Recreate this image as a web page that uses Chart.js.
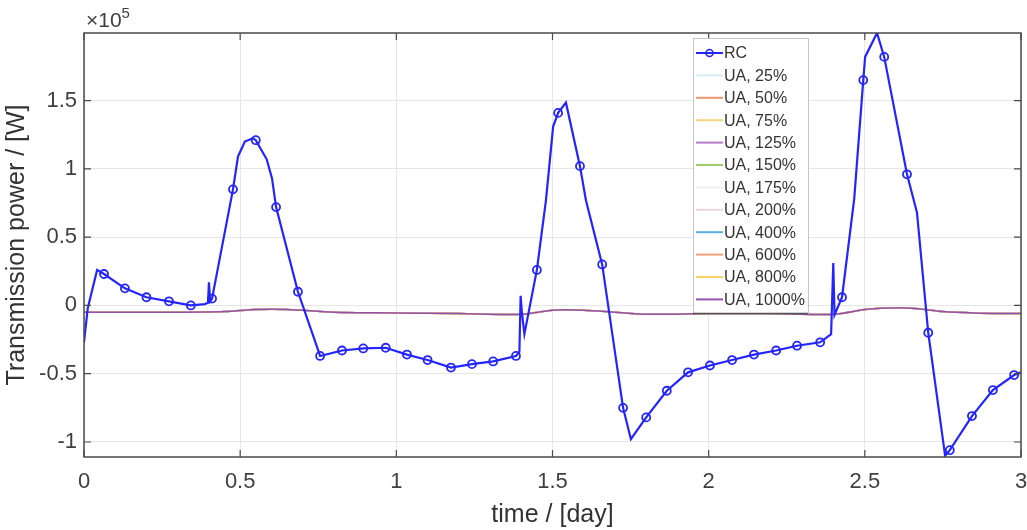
<!DOCTYPE html>
<html>
<head>
<meta charset="utf-8">
<script src="https://cdn.jsdelivr.net/npm/chart.js@4.4.1/dist/chart.umd.min.js"></script>
<style>
  html, body { margin: 0; padding: 0; background: #fff; }
  #wrap { width: 1027px; height: 530px; }
</style>
</head>
<body>
<div id="wrap"><canvas id="powerChart" width="1027" height="530"></canvas></div>
<script>
"use strict";
// values in units of 1e5 W, time in days
const rcMarkTime = [0.064, 0.131, 0.200, 0.272, 0.342, 0.410, 0.477, 0.550, 0.615, 0.685,
    0.756, 0.826, 0.894, 0.966, 1.034, 1.100, 1.175, 1.242, 1.310, 1.383,
    1.450, 1.518, 1.588, 1.659, 1.726, 1.800, 1.866, 1.934, 2.004, 2.075,
    2.145, 2.216, 2.283, 2.357, 2.427, 2.495, 2.562, 2.635, 2.703, 2.772,
    2.843, 2.910, 2.978];
const rcMarkPower = [0.23, 0.125, 0.06, 0.03, 0.00, 0.05, 0.85, 1.21, 0.72, 0.10,
    -0.37, -0.33, -0.315, -0.31, -0.36, -0.40, -0.455, -0.43, -0.41, -0.37,
    0.26, 1.41, 1.02, 0.30, -0.75, -0.82, -0.625, -0.49, -0.44, -0.40,
    -0.36, -0.33, -0.295, -0.27, 0.06, 1.65, 1.82, 0.96, -0.20, -1.06,
    -0.81, -0.62, -0.51];
// samples between the circle markers (peaks, switching spikes)
const rcTime = [0.000, 0.012, 0.042, 0.387, 0.397, 0.400, 0.404, 0.493, 0.515, 0.541,
    0.585, 0.602, 1.394, 1.398, 1.402, 1.410, 1.479, 1.502, 1.543, 1.607,
    1.751, 2.392, 2.399, 2.403, 2.466, 2.501, 2.539, 2.667, 2.757, 3.000];
const rcPower = [-0.27, -0.02, 0.26, 0.01, 0.02, 0.17, 0.03, 1.09, 1.20, 1.225,
    1.07, 0.93, -0.34, 0.07, -0.05, -0.21, 0.77, 1.31, 1.485, 0.77,
    -0.98, -0.21, 0.31, -0.07, 0.78, 1.82, 1.995, 0.68, -1.10, -0.49];

const uaTime = [0, 0.30, 0.45, 0.55, 0.65, 0.80, 1.00, 1.20, 1.40, 1.50, 1.60, 1.70, 1.80,
    2.00, 2.20, 2.40, 2.50, 2.55, 2.65, 2.75, 2.85, 3.00];
const uaPower = [-0.05, -0.05, -0.045, -0.03, -0.03, -0.05, -0.055, -0.06, -0.065, -0.035,
    -0.035, -0.05, -0.065, -0.06, -0.06, -0.065, -0.03, -0.02, -0.02, -0.045, -0.055, -0.06];

const uaLabels = ['UA, 25%', 'UA, 50%', 'UA, 75%', 'UA, 125%', 'UA, 150%', 'UA, 175%',
    'UA, 200%', 'UA, 400%', 'UA, 600%', 'UA, 800%', 'UA, 1000%'];
const uaColors = ['#d8ecf8', '#f0966c', '#f6d47a', '#b47cc8', '#9ccb6a', '#f0f0f0',
    '#ecd8de', '#5aaee2', '#f2a080', '#f8d264', '#9550ae'];

const xTicks = [0, 0.5, 1, 1.5, 2, 2.5, 3];
const yTicks = [-1, -0.5, 0, 0.5, 1, 1.5];

const FONT = '"Liberation Sans", Arial, Helvetica, sans-serif';

function buildRc() {
    const pts = [];
    rcMarkTime.forEach((t, i) => pts.push({ x: t, y: rcMarkPower[i], mark: true }));
    rcTime.forEach((t, i) => pts.push({ x: t, y: rcPower[i], mark: false }));
    pts.sort((a, b) => a.x - b.x);
    return pts;
}

const frame = {
    id: 'frame',
    afterDatasetsDraw(chart) {
        const ctx = chart.ctx;
        const a = chart.chartArea;
        const xs = chart.scales.x, ys = chart.scales.y;
        ctx.save();
        // inward tick marks on all four sides
        ctx.strokeStyle = '#4a4a4a';
        ctx.lineWidth = 1.2;
        ctx.beginPath();
        xTicks.forEach(v => {
            const p = xs.getPixelForValue(v);
            ctx.moveTo(p, a.bottom); ctx.lineTo(p, a.bottom - 7);
            ctx.moveTo(p, a.top); ctx.lineTo(p, a.top + 7);
        });
        yTicks.forEach(v => {
            const p = ys.getPixelForValue(v);
            ctx.moveTo(a.left, p); ctx.lineTo(a.left + 7, p);
            ctx.moveTo(a.right, p); ctx.lineTo(a.right - 7, p);
        });
        ctx.stroke();

        // legend
        const lx = a.left + 609, ly = a.top + 5, lw = 115, lh = 275, row = 22.4;
        ctx.fillStyle = '#ffffff';
        ctx.fillRect(lx, ly, lw, lh);
        ctx.strokeStyle = '#c4c4c4';
        ctx.lineWidth = 1;
        ctx.strokeRect(lx + 0.5, ly + 0.5, lw, lh);
        ctx.strokeStyle = '#555';
        ctx.lineWidth = 1.5;
        ctx.beginPath();
        ctx.moveTo(lx, ly + lh + 0.5); ctx.lineTo(lx + lw, ly + lh + 0.5);
        ctx.stroke();
        ctx.font = '16px ' + FONT;
        ctx.textBaseline = 'middle';
        ctx.textAlign = 'left';
        chart.data.datasets.forEach((ds, i) => {
            const y = ly + 15 + i * row;
            ctx.strokeStyle = ds.borderColor;
            ctx.lineWidth = 2;
            ctx.beginPath();
            ctx.moveTo(lx + 3, y); ctx.lineTo(lx + 30, y);
            ctx.stroke();
            if (i === 0) {
                ctx.lineWidth = 1.5;
                ctx.beginPath();
                ctx.arc(lx + 16.5, y, 3.5, 0, Math.PI * 2);
                ctx.stroke();
            }
            ctx.fillStyle = '#333';
            ctx.fillText(ds.label, lx + 31, y + 1);
        });

        // axes box
        ctx.strokeStyle = '#4a4a4a';
        ctx.lineWidth = 1.5;
        ctx.strokeRect(a.left, a.top, a.right - a.left, a.bottom - a.top);

        // exponent label
        ctx.fillStyle = '#404040';
        ctx.textBaseline = 'alphabetic';
        ctx.font = '21px ' + FONT;
        ctx.fillText('\u00d710', a.left + 2, 27);
        const w = ctx.measureText('\u00d710').width;
        ctx.font = '15px ' + FONT;
        ctx.fillText('5', a.left + 2 + w, 18);
        ctx.restore();
    }
};

function initializeChart() {
    const canvas = document.getElementById('powerChart');
    const ctx = canvas.getContext('2d');

    const datasets = [{
        label: 'RC',
        data: buildRc(),
        borderColor: '#2424ff',
        borderWidth: 2.2,
        pointRadius: c => (c.raw && c.raw.mark ? 4 : 0),
        pointBorderColor: '#2424ff',
        pointBackgroundColor: 'rgba(255,255,255,0)',
        pointBorderWidth: 1.8,
        tension: 0,
        order: 0
    }];
    uaLabels.forEach((label, i) => {
        datasets.push({
            label: label,
            data: uaTime.map((t, k) => ({ x: t, y: uaPower[k] })),
            borderColor: uaColors[i],
            borderWidth: 1.5,
            pointRadius: 0,
            tension: 0.3,
            order: uaLabels.length - i
        });
    });

    new Chart(ctx, {
        type: 'line',
        data: { datasets: datasets },
        plugins: [frame],
        options: {
            responsive: false,
            animation: false,
            devicePixelRatio: 1,
            layout: { padding: { top: 33, right: 0, left: 0, bottom: 0 } },
            plugins: { legend: { display: false }, tooltip: { enabled: false } },
            scales: {
                x: {
                    type: 'linear',
                    min: 0,
                    max: 3,
                    afterFit: s => { s.height = 73; s.paddingRight = 6; s.paddingLeft = 0; },
                    afterBuildTicks: s => { s.ticks = xTicks.map(v => ({ value: v })); },
                    grid: { color: '#e6e6e6', drawTicks: false },
                    border: { display: false },
                    ticks: {
                        padding: 12, color: '#404040', font: { family: FONT, size: 22 },
                        maxRotation: 0, callback: v => String(v)
                    },
                    title: {
                        display: true,
                        text: 'time / [day]',
                        color: '#333',
                        padding: { top: 0, bottom: 0 },
                        font: { family: FONT, size: 25 }
                    }
                },
                y: {
                    type: 'linear',
                    min: -1.11,
                    max: 1.995,
                    afterFit: s => { s.width = 84; },
                    afterBuildTicks: s => { s.ticks = yTicks.map(v => ({ value: v })); },
                    grid: { color: '#e6e6e6', drawTicks: false },
                    border: { display: false },
                    ticks: {
                        padding: 7, color: '#404040', font: { family: FONT, size: 22 },
                        callback: v => String(v)
                    },
                    title: {
                        display: true,
                        text: 'Transmission power / [W]',
                        color: '#333',
                        padding: { top: 2, bottom: 0 },
                        font: { family: FONT, size: 25 }
                    }
                }
            }
        }
    });
}

initializeChart();
</script>
</body>
</html>
